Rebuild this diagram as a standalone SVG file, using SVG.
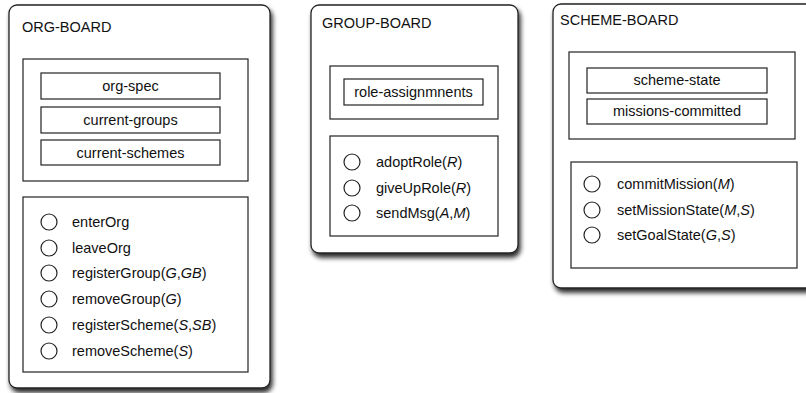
<svg xmlns="http://www.w3.org/2000/svg" width="806" height="393" viewBox="0 0 806 393">
<style>
text{font-family:"Liberation Sans",Arial,sans-serif;font-size:14.5px;fill:#111}
.title{font-size:14.5px}
.c{text-anchor:middle}
.board{fill:#fff;stroke:#222;stroke-width:1.3}
.box{fill:#fff;stroke:#222;stroke-width:1.2}
.op{fill:#fff;stroke:#222;stroke-width:1.2}
.i{font-style:italic}
</style>
<defs>
<filter id="sh" x="-10%" y="-10%" width="130%" height="130%">
<feGaussianBlur in="SourceAlpha" stdDeviation="2.5"/>
<feOffset dx="2" dy="3.5" result="b"/>
<feComponentTransfer><feFuncA type="linear" slope="0.85"/></feComponentTransfer>
<feMerge><feMergeNode/><feMergeNode in="SourceGraphic"/></feMerge>
</filter>
</defs>
<rect width="806" height="393" fill="#fff"/>

<g id="org-board">
<rect class="board" x="9" y="5" width="261" height="383" rx="8" filter="url(#sh)"/>
<text class="title" x="22" y="32">ORG-BOARD</text>
<rect class="box" x="23" y="59" width="225" height="122"/>
<rect class="box" x="41" y="73" width="179" height="26"/>
<text class="c" x="130.5" y="91">org-spec</text>
<rect class="box" x="41" y="107" width="179" height="26"/>
<text class="c" x="130.5" y="125">current-groups</text>
<rect class="box" x="41" y="140" width="179" height="25"/>
<text class="c" x="130.5" y="158">current-schemes</text>
<rect class="box" x="23" y="197" width="225" height="175"/>
<circle class="op" cx="49" cy="222" r="8"/><text x="72" y="227">enterOrg</text>
<circle class="op" cx="49" cy="248" r="8"/><text x="72" y="253">leaveOrg</text>
<circle class="op" cx="49" cy="273" r="8"/><text x="72" y="278">registerGroup(<tspan class="i">G</tspan>,<tspan class="i">GB</tspan>)</text>
<circle class="op" cx="49" cy="299" r="8"/><text x="72" y="304">removeGroup(<tspan class="i">G</tspan>)</text>
<circle class="op" cx="49" cy="325" r="8"/><text x="72" y="330">registerScheme(<tspan class="i">S</tspan>,<tspan class="i">SB</tspan>)</text>
<circle class="op" cx="49" cy="351" r="8"/><text x="72" y="356">removeScheme(<tspan class="i">S</tspan>)</text>
</g>

<g id="group-board">
<rect class="board" x="311" y="5" width="207" height="248" rx="8" filter="url(#sh)"/>
<text class="title" x="322" y="28">GROUP-BOARD</text>
<rect class="box" x="330" y="66" width="168" height="53"/>
<rect class="box" x="344" y="79" width="139" height="26"/>
<text class="c" x="413.5" y="97">role-assignmnents</text>
<rect class="box" x="330" y="136" width="168" height="100"/>
<circle class="op" cx="352" cy="162" r="8"/><text x="376" y="167">adoptRole(<tspan class="i">R</tspan>)</text>
<circle class="op" cx="352" cy="188" r="8"/><text x="376" y="193">giveUpRole(<tspan class="i">R</tspan>)</text>
<circle class="op" cx="352" cy="213" r="8"/><text x="376" y="218">sendMsg(<tspan class="i">A</tspan>,<tspan class="i">M</tspan>)</text>
</g>

<g id="scheme-board">
<rect class="board" x="553" y="4" width="262" height="284" rx="8" filter="url(#sh)"/>
<text class="title" x="560" y="25">SCHEME-BOARD</text>
<rect class="box" x="569" y="52" width="226" height="87"/>
<rect class="box" x="587" y="68" width="180" height="25"/>
<text class="c" x="677" y="85">scheme-state</text>
<rect class="box" x="587" y="99" width="180" height="25"/>
<text class="c" x="677" y="116">missions-committed</text>
<rect class="box" x="571" y="162" width="226" height="106"/>
<circle class="op" cx="592" cy="184" r="8"/><text x="617" y="189">commitMission(<tspan class="i">M</tspan>)</text>
<circle class="op" cx="592" cy="210" r="8"/><text x="617" y="215">setMissionState(<tspan class="i">M</tspan>,<tspan class="i">S</tspan>)</text>
<circle class="op" cx="592" cy="235" r="8"/><text x="617" y="240">setGoalState(<tspan class="i">G</tspan>,<tspan class="i">S</tspan>)</text>
</g>

<g id="connectors"></g>
</svg>
